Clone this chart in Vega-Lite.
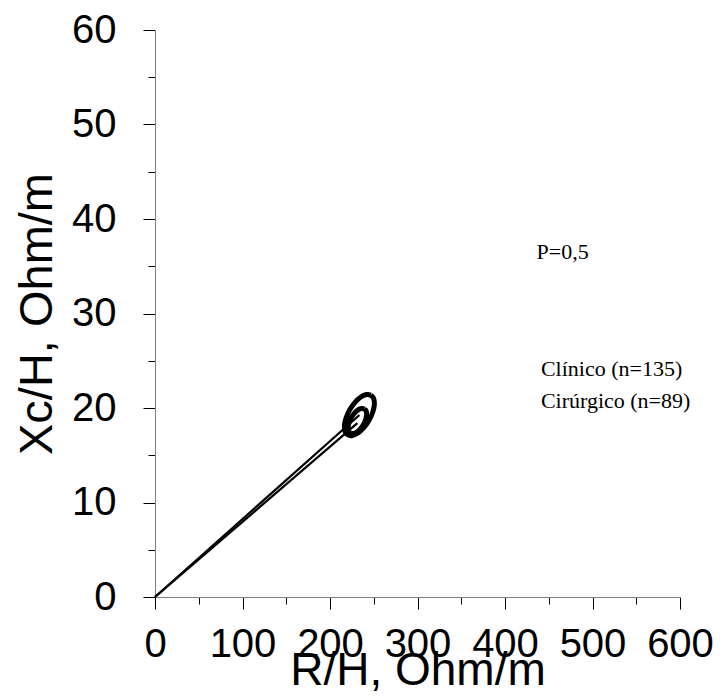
{
  "$schema": "https://vega.github.io/schema/vega-lite/v6.json",
  "width": 525,
  "height": 567,
  "autosize": "none",
  "padding": {"left": 155, "top": 30, "right": 42, "bottom": 100},
  "background": "white",
  "config": {"view": {"stroke": null}, "axis": {"grid": false}},
  "datasets": {
    "curves": [
      {"group": "Clínico", "part": "vector", "i": 0, "x": 0, "y": 0},
      {"group": "Clínico", "part": "vector", "i": 1, "x": 233.6, "y": 19.26},
      {"group": "Cirúrgico", "part": "vector", "i": 0, "x": 0, "y": 0},
      {"group": "Cirúrgico", "part": "vector", "i": 1, "x": 231.3, "y": 18.4},
      {"group": "Clínico", "part": "ellipse", "i": 0, "x": 246.8, "y": 21.37},
      {"group": "Clínico", "part": "ellipse", "i": 1, "x": 250.0, "y": 20.98},
      {"group": "Clínico", "part": "ellipse", "i": 2, "x": 250.7, "y": 20.34},
      {"group": "Clínico", "part": "ellipse", "i": 3, "x": 248.7, "y": 19.52},
      {"group": "Clínico", "part": "ellipse", "i": 4, "x": 244.5, "y": 18.68},
      {"group": "Clínico", "part": "ellipse", "i": 5, "x": 238.6, "y": 17.92},
      {"group": "Clínico", "part": "ellipse", "i": 6, "x": 232.0, "y": 17.35},
      {"group": "Clínico", "part": "ellipse", "i": 7, "x": 225.6, "y": 17.09},
      {"group": "Clínico", "part": "ellipse", "i": 8, "x": 220.4, "y": 17.15},
      {"group": "Clínico", "part": "ellipse", "i": 9, "x": 217.2, "y": 17.53},
      {"group": "Clínico", "part": "ellipse", "i": 10, "x": 216.5, "y": 18.18},
      {"group": "Clínico", "part": "ellipse", "i": 11, "x": 218.5, "y": 18.99},
      {"group": "Clínico", "part": "ellipse", "i": 12, "x": 222.7, "y": 19.84},
      {"group": "Clínico", "part": "ellipse", "i": 13, "x": 228.6, "y": 20.60},
      {"group": "Clínico", "part": "ellipse", "i": 14, "x": 235.2, "y": 21.16},
      {"group": "Clínico", "part": "ellipse", "i": 15, "x": 241.6, "y": 21.43},
      {"group": "Clínico", "part": "ellipse", "i": 16, "x": 246.8, "y": 21.37},
      {"group": "Cirúrgico", "part": "ellipse", "i": 0, "x": 239.3, "y": 19.90},
      {"group": "Cirúrgico", "part": "ellipse", "i": 1, "x": 241.4, "y": 19.67},
      {"group": "Cirúrgico", "part": "ellipse", "i": 2, "x": 241.8, "y": 19.27},
      {"group": "Cirúrgico", "part": "ellipse", "i": 3, "x": 240.8, "y": 18.77},
      {"group": "Cirúrgico", "part": "ellipse", "i": 4, "x": 238.3, "y": 18.25},
      {"group": "Cirúrgico", "part": "ellipse", "i": 5, "x": 234.6, "y": 17.79},
      {"group": "Cirúrgico", "part": "ellipse", "i": 6, "x": 230.5, "y": 17.45},
      {"group": "Cirúrgico", "part": "ellipse", "i": 7, "x": 226.6, "y": 17.30},
      {"group": "Cirúrgico", "part": "ellipse", "i": 8, "x": 223.3, "y": 17.34},
      {"group": "Cirúrgico", "part": "ellipse", "i": 9, "x": 221.2, "y": 17.58},
      {"group": "Cirúrgico", "part": "ellipse", "i": 10, "x": 220.8, "y": 17.98},
      {"group": "Cirúrgico", "part": "ellipse", "i": 11, "x": 221.8, "y": 18.48},
      {"group": "Cirúrgico", "part": "ellipse", "i": 12, "x": 224.3, "y": 18.99},
      {"group": "Cirúrgico", "part": "ellipse", "i": 13, "x": 228.0, "y": 19.46},
      {"group": "Cirúrgico", "part": "ellipse", "i": 14, "x": 232.1, "y": 19.80},
      {"group": "Cirúrgico", "part": "ellipse", "i": 15, "x": 236.1, "y": 19.95},
      {"group": "Cirúrgico", "part": "ellipse", "i": 16, "x": 239.3, "y": 19.90}
    ],
    "notes": [
      {"label": "P=0,5", "x": 436, "y": 36.5},
      {"label": "Clínico (n=135)", "x": 441, "y": 24.1},
      {"label": "Cirúrgico (n=89)", "x": 441, "y": 20.7}
    ]
  },
  "encoding": {
    "x": {
      "field": "x",
      "type": "quantitative",
      "scale": {"domain": [0, 600], "nice": false, "zero": false},
      "axis": {
        "values": [0, 50, 100, 150, 200, 250, 300, 350, 400, 450, 500, 550, 600],
        "labelExpr": "datum.value % 100 === 0 ? datum.label : ''",
        "tickSize": {"condition": {"test": "datum.value % 100 === 0", "value": 12}, "value": 7},
        "tickColor": "#000000",
        "domainColor": "#808080",
        "labelFont": "Liberation Sans",
        "labelFontSize": 40,
        "labelColor": "#000000",
        "labelPadding": 15,
        "labelFlush": false,
        "labelOverlap": false,
        "labelBound": false,
        "title": "R/H, Ohm/m",
        "titleFont": "Liberation Sans",
        "titleFontSize": 46,
        "titleFontWeight": "normal",
        "titleColor": "#000000",
        "titleBaseline": "alphabetic",
        "titleY": 87
      }
    },
    "y": {
      "field": "y",
      "type": "quantitative",
      "scale": {"domain": [0, 60], "nice": false, "zero": false},
      "axis": {
        "values": [0, 5, 10, 15, 20, 25, 30, 35, 40, 45, 50, 55, 60],
        "labelExpr": "datum.value % 10 === 0 ? datum.label : ''",
        "tickSize": {"condition": {"test": "datum.value % 10 === 0", "value": 12}, "value": 7},
        "tickColor": "#000000",
        "domainColor": "#808080",
        "labelFont": "Liberation Sans",
        "labelFontSize": 40,
        "labelColor": "#000000",
        "labelPadding": 27,
        "labelFlush": false,
        "labelOverlap": false,
        "labelBound": false,
        "title": "Xc/H, Ohm/m",
        "titleFont": "Liberation Sans",
        "titleFontSize": 47,
        "titleFontWeight": "normal",
        "titleColor": "#000000",
        "titleBaseline": "alphabetic",
        "titleX": -104
      }
    }
  },
  "layer": [
    {
      "data": {"name": "curves"},
      "transform": [{"filter": "datum.part === 'vector'"}],
      "mark": {"type": "line", "color": "#000000", "strokeWidth": 2.2},
      "encoding": {
        "detail": {"field": "group", "type": "nominal"},
        "order": {"field": "i", "type": "quantitative"}
      }
    },
    {
      "data": {"name": "curves"},
      "transform": [{"filter": "datum.part === 'ellipse'"}],
      "mark": {"type": "line", "color": "#000000", "strokeWidth": 5, "interpolate": "cardinal"},
      "encoding": {
        "detail": {"field": "group", "type": "nominal"},
        "order": {"field": "i", "type": "quantitative"}
      }
    },
    {
      "data": {"name": "notes"},
      "mark": {"type": "text", "font": "Liberation Serif", "fontSize": 22, "align": "left", "baseline": "middle", "color": "#000000"},
      "encoding": {
        "text": {"field": "label", "type": "nominal"}
      }
    }
  ]
}
